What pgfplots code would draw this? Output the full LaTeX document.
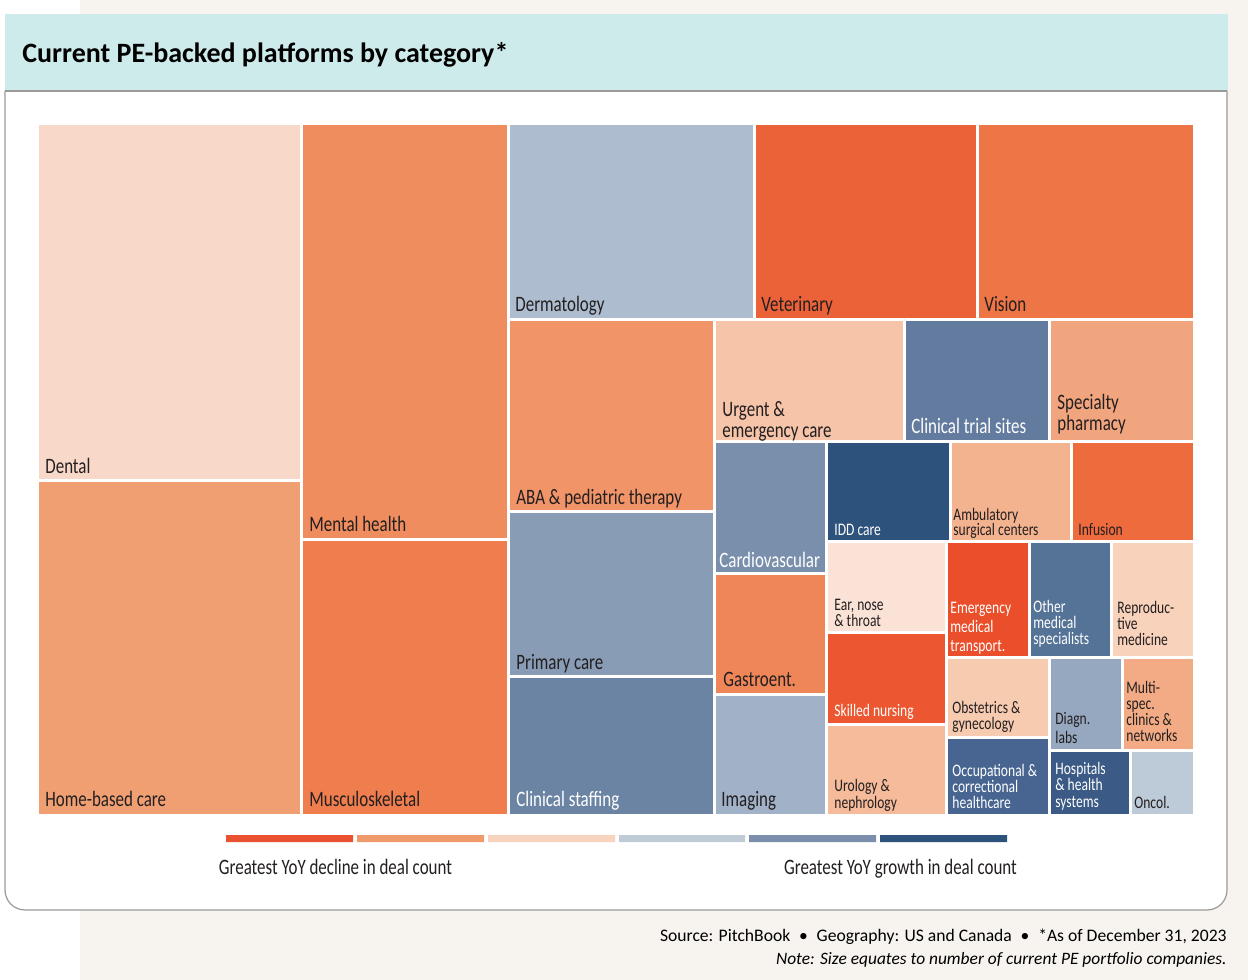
\documentclass[border=0pt]{standalone}
\usepackage{fontspec}
\setmainfont{Carlito}
\newfontfamily\cond{Carlito}[FakeStretch=0.77]
\usepackage{pgfplots}
\pgfplotsset{compat=1.18}
\definecolor{beige}{HTML}{F7F3EF}
\definecolor{band}{HTML}{CDEBEA}
\definecolor{frame}{HTML}{9A9A9A}
\definecolor{txt}{HTML}{231F20}
\definecolor{cDental}{HTML}{F8D9C9}
\definecolor{cHome}{HTML}{F09F72}
\definecolor{cMental}{HTML}{EF8D5F}
\definecolor{cMusc}{HTML}{EF7D4D}
\definecolor{cDerm}{HTML}{ADBDCF}
\definecolor{cVet}{HTML}{EC6238}
\definecolor{cVision}{HTML}{EE7646}
\definecolor{cABA}{HTML}{F19468}
\definecolor{cPrim}{HTML}{889CB6}
\definecolor{cStaff}{HTML}{6C84A3}
\definecolor{cUrgent}{HTML}{F6C4A8}
\definecolor{cTrial}{HTML}{627B9F}
\definecolor{cSpec}{HTML}{F1A57E}
\definecolor{cCardio}{HTML}{7A8FAC}
\definecolor{cGastro}{HTML}{EF8658}
\definecolor{cImag}{HTML}{A1B1C8}
\definecolor{cIDD}{HTML}{2D527C}
\definecolor{cAmb}{HTML}{F4B38F}
\definecolor{cInf}{HTML}{EE6B3E}
\definecolor{cENT}{HTML}{FAE2D6}
\definecolor{cSkill}{HTML}{EC5732}
\definecolor{cUro}{HTML}{F5BB9A}
\definecolor{cEmerg}{HTML}{EA4E2A}
\definecolor{cOther}{HTML}{557396}
\definecolor{cRepro}{HTML}{F8D2BB}
\definecolor{cObst}{HTML}{F7CBB0}
\definecolor{cOccup}{HTML}{476590}
\definecolor{cDiagn}{HTML}{96A8C0}
\definecolor{cMulti}{HTML}{F2AB84}
\definecolor{cHosp}{HTML}{3B5A85}
\definecolor{cOncol}{HTML}{BDCAD8}
\definecolor{l1}{HTML}{EA5130}
\definecolor{l2}{HTML}{F09A6C}
\definecolor{l3}{HTML}{F8D3BD}
\definecolor{l4}{HTML}{BFCCD8}
\definecolor{l5}{HTML}{7B8FAC}
\definecolor{l6}{HTML}{2D527C}
\newcommand{\rect}[5]{\addplot[fill=#5, draw=white, line width=1.5pt, line join=miter] coordinates {(#1,#2) (#3,#2) (#3,#4) (#1,#4) (#1,#2)};}
\newcommand{\scalebar}[5]{\addplot[fill=#5, draw=none] coordinates {(#1,#2) (#3,#2) (#3,#4) (#1,#4) (#1,#2)};}
\newcommand{\lbl}[4]{\node[anchor=base west, inner sep=0pt, text=#4, font=\cond\fontsize{11}{13}\selectfont] at (axis cs:#1,#2) {#3};}
\newcommand{\slbl}[4]{\node[anchor=base west, inner sep=0pt, text=#4, font=\cond\fontsize{8.8}{10}\selectfont] at (axis cs:#1,#2) {#3};}
\begin{document}
\begin{tikzpicture}
\begin{scope}[x=0.5pt, y=-0.5pt, shift={(0,490pt)}]
\fill[white] (0,0) rectangle (1248,980);
\fill[beige] (80,0) rectangle (1248,980);
\fill[band] (5,14) rectangle (1228,91);
\draw[frame, line width=0.6pt, fill=white, rounded corners=10pt] (5,91) -- (5,910) -- (1227,910) -- (1227,91);
\draw[frame, line width=0.6pt] (5,91) -- (1227,91);
\node[anchor=base west, inner sep=0pt, font=\bfseries\fontsize{14}{16}\selectfont, text=black] at (22,63) {Current PE-backed platforms by category*};
\node[anchor=base east, inner sep=0pt, font=\fontsize{8.8}{10}\selectfont, text=black] at (1227,942) {Source: PitchBook\enspace•\enspace Geography: US and Canada\enspace•\enspace *As of December 31, 2023};
\node[anchor=base east, inner sep=0pt, font=\itshape\fontsize{8.7}{10}\selectfont, text=black] at (1227,965) {Note: Size equates to number of current PE portfolio companies.};
\end{scope}
\begin{axis}[width=624pt, height=490pt, scale only axis, xmin=0, xmax=1248, ymin=0, ymax=980, y dir=reverse, hide axis, clip=false]
% treemap rectangles (x0, y0, x1, y1) in picture units
\rect{37.5}{123.5}{301.5}{480.5}{cDental}
\rect{37.5}{480.5}{301.5}{815.5}{cHome}
\rect{301.5}{123.5}{508}{539.3}{cMental}
\rect{301.5}{539.3}{508}{815.5}{cMusc}
\rect{508}{123.5}{754.7}{319.5}{cDerm}
\rect{754.7}{123.5}{977}{319.5}{cVet}
\rect{977}{123.5}{1194.5}{319.5}{cVision}
\rect{508}{319.5}{714.3}{511.5}{cABA}
\rect{508}{511.5}{714.3}{676.7}{cPrim}
\rect{508}{676.7}{714.3}{815.5}{cStaff}
\rect{714.3}{319.5}{904.7}{441.3}{cUrgent}
\rect{904.7}{319.5}{1049.5}{441.3}{cTrial}
\rect{1049.5}{319.5}{1194.5}{441.3}{cSpec}
\rect{714.3}{441.3}{826.7}{573.7}{cCardio}
\rect{714.3}{573.7}{826.7}{694.5}{cGastro}
\rect{714.3}{694.5}{826.7}{815.5}{cImag}
\rect{826.7}{441.3}{950.2}{541.3}{cIDD}
\rect{950.2}{441.3}{1071.3}{541.3}{cAmb}
\rect{1071.3}{441.3}{1194.5}{541.3}{cInf}
\rect{826.7}{541.3}{946.7}{632.8}{cENT}
\rect{826.7}{632.8}{946.7}{724}{cSkill}
\rect{826.7}{724}{946.7}{815.5}{cUro}
\rect{946.7}{541.3}{1029.7}{657.2}{cEmerg}
\rect{1029.7}{541.3}{1111}{657.2}{cOther}
\rect{1111}{541.3}{1194.5}{657.2}{cRepro}
\rect{946.7}{657.2}{1049.7}{737.3}{cObst}
\rect{946.7}{737.3}{1049.7}{815.5}{cOccup}
\rect{1049.7}{657.2}{1122}{750.3}{cDiagn}
\rect{1122}{657.2}{1194.5}{750.3}{cMulti}
\rect{1049.7}{750.3}{1130.8}{815.5}{cHosp}
\rect{1130.8}{750.3}{1194.5}{815.5}{cOncol}
% legend colour scale
\scalebar{226}{835}{353}{842}{l1}
\scalebar{357}{835}{484}{842}{l2}
\scalebar{488}{835}{615}{842}{l3}
\scalebar{619}{835}{745}{842}{l4}
\scalebar{749}{835}{876}{842}{l5}
\scalebar{880}{835}{1007}{842}{l6}
\node[anchor=base, inner sep=0pt, text=txt, font=\cond\fontsize{11}{13}\selectfont] at (axis cs:335.5,874) {Greatest YoY decline in deal count};
\node[anchor=base, inner sep=0pt, text=txt, font=\cond\fontsize{11}{13}\selectfont] at (axis cs:900.5,874) {Greatest YoY growth in deal count};
% labels
\lbl{45}{473}{Dental}{txt}
\lbl{45}{806}{Home-based care}{txt}
\lbl{309}{531}{Mental health}{txt}
\lbl{309}{806}{Musculoskeletal}{txt}
\lbl{515}{311}{Dermatology}{txt}
\lbl{761}{311}{Veterinary}{txt}
\lbl{984}{311}{Vision}{txt}
\lbl{516}{504}{ABA \& pediatric therapy}{txt}
\lbl{516}{669}{Primary care}{txt}
\lbl{516}{806}{Clinical staffing}{white}
\lbl{722}{416}{Urgent \&}{txt}
\lbl{722}{437}{emergency care}{txt}
\lbl{911}{433}{Clinical trial sites}{white}
\lbl{1057}{409}{Specialty}{txt}
\lbl{1057}{430}{pharmacy}{txt}
\lbl{719}{567}{Cardiovascular}{white}
\lbl{723}{686}{Gastroent.}{txt}
\lbl{721}{806}{Imaging}{txt}
\slbl{834}{535}{IDD care}{white}
\slbl{953}{520}{Ambulatory}{txt}
\slbl{953}{535}{surgical centers}{txt}
\slbl{1078}{535}{Infusion}{txt}
\slbl{834}{610}{Ear, nose}{txt}
\slbl{834}{626}{\& throat}{txt}
\slbl{834}{716}{Skilled nursing}{white}
\slbl{834}{791}{Urology \&}{txt}
\slbl{834}{808}{nephrology}{txt}
\slbl{950}{613}{Emergency}{white}
\slbl{950}{632}{medical}{white}
\slbl{950}{651}{transport.}{white}
\slbl{1033}{612}{Other}{white}
\slbl{1033}{628}{medical}{white}
\slbl{1033}{644}{specialists}{white}
\slbl{1117}{613}{Reproduc-}{txt}
\slbl{1117}{629}{tive}{txt}
\slbl{1117}{645}{medicine}{txt}
\slbl{952}{713}{Obstetrics \&}{txt}
\slbl{952}{729}{gynecology}{txt}
\slbl{1055}{724}{Diagn.}{txt}
\slbl{1055}{743}{labs}{txt}
\slbl{1126}{693}{Multi-}{txt}
\slbl{1126}{709}{spec.}{txt}
\slbl{1126}{725}{clinics \&}{txt}
\slbl{1126}{741}{networks}{txt}
\slbl{952}{776}{Occupational \&}{white}
\slbl{952}{792}{correctional}{white}
\slbl{952}{808}{healthcare}{white}
\slbl{1055}{774}{Hospitals}{white}
\slbl{1055}{790}{\& health}{white}
\slbl{1055}{807}{systems}{white}
\slbl{1134}{808}{Oncol.}{txt}
\end{axis}
\end{tikzpicture}
\end{document}
